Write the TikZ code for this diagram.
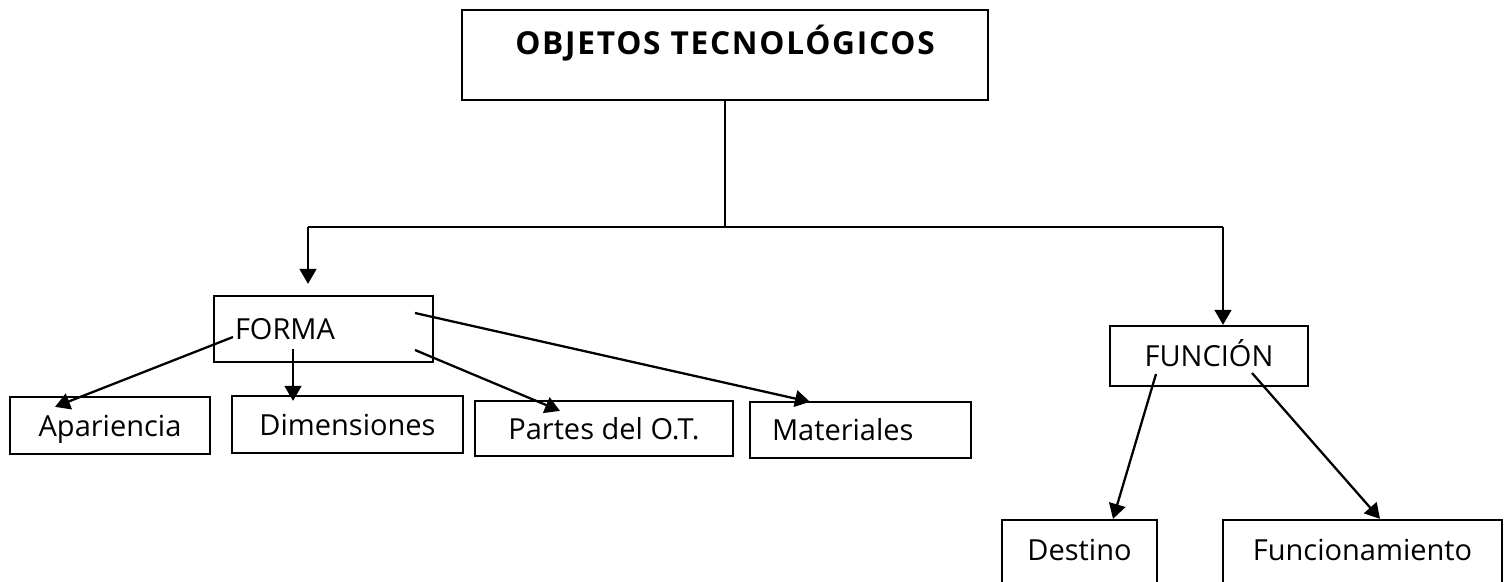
\documentclass[tikz,border=0pt]{standalone}
\usepackage{fontspec}
\setmainfont{Open Sans}
\usepackage{tikz}
\usetikzlibrary{positioning, arrows.meta}

\begin{document}
\begin{tikzpicture}[
  box/.style={draw, line width=1.3pt, inner sep=0pt, minimum height=1.14cm,
    text height=0.42cm, text depth=0pt, font=\fontsize{16.5}{19}\selectfont},
  link/.style={line width=1.3pt, -{Triangle[length=8.5pt, width=9.5pt]}},
  plain/.style={line width=1.3pt}
]
\useasboundingbox (0, 0) rectangle (30.14, -11.62);
\clip (0, 0) rectangle (30.14, -11.62);

\node[box, minimum width=10.52cm, inner ysep=0.44cm, text height=0.45cm, text depth=0.47cm,
  font=\bfseries\fontsize{18}{21}\selectfont\addfontfeature{LetterSpace=5.5}] (objetos) at (14.5, -1.1) {OBJETOS TECNOLÓGICOS};

\node[box, minimum width=4.38cm, minimum height=1.32cm, text width=3.54cm, align=left] (forma) at (6.47, -6.58) {FORMA};
\node[box, minimum width=3.96cm, minimum height=1.2cm] (funcion) at (24.18, -7.12) {FUNCIÓN};

\node[box, minimum width=4.0cm] (apariencia) at (2.2, -8.51) {Apariencia};
\node[box, minimum width=4.62cm] (dimensiones) at (6.95, -8.49) {Dimensiones};
\node[box, minimum width=5.16cm, minimum height=1.1cm] (partes) at (12.08, -8.57) {Partes del O.T.};
\node[box, minimum width=4.42cm, minimum height=1.12cm, text width=3.54cm, align=left] (materiales) at (17.21, -8.6) {Materiales};

\node[box, minimum width=3.1cm, minimum height=1.4cm, text depth=0.2cm] (destino) at (21.59, -11.1) {Destino};
\node[box, minimum width=5.58cm, minimum height=1.4cm, text depth=0.2cm] (funcionamiento) at (27.25, -11.1) {Funcionamiento};

\coordinate (barL) at (6.16, -4.54);
\coordinate (barR) at (24.46, -4.54);

\draw[plain] (objetos.south) -- (objetos.south |- barL);
\draw[plain] (barL) -- (barR);
\draw[link] (barL) -- ([yshift=0.22cm]barL |- forma.north);
\draw[link] (barR) -- (barR |- funcion.north);

\draw[link] ([shift={(-1.81, -0.16)}]forma.center) -- ([shift={(-1.1, -0.22)}]apariencia.north);
\draw[link] ([shift={(-0.61, -0.4)}]forma.center) -- ([shift={(-1.09, -0.12)}]dimensiones.north);
\draw[link] ([shift={(1.83, -0.42)}]forma.center) -- ([shift={(-0.88, -0.22)}]partes.north);
\draw[link] ([shift={(1.83, 0.32)}]forma.center) -- ([shift={(-1.01, -0.02)}]materiales.north);

\draw[link] ([shift={(-1.06, -0.36)}]funcion.center) -- ([xshift=0.67cm]destino.north);
\draw[link] ([shift={(0.86, -0.34)}]funcion.center) -- ([xshift=0.35cm]funcionamiento.north);
\end{tikzpicture}
\end{document}
